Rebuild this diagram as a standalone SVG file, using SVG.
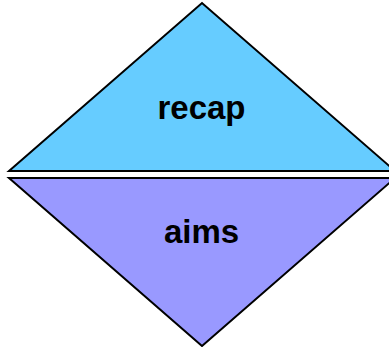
<svg xmlns="http://www.w3.org/2000/svg" width="389" height="347" viewBox="0 0 389 347">
<style>
.tri{stroke:#000;stroke-width:2;stroke-linejoin:miter}
.lbl{font-family:"Liberation Sans",Arial,sans-serif;font-weight:bold;font-size:33px;fill:#000;text-anchor:middle}
</style>
<rect width="389" height="347" fill="#fff"/>
<g id="recap">
<polygon class="tri" points="9,171 202,3 395,171" fill="#66ccff"/>
<text class="lbl" x="201.5" y="119">recap</text>
</g>
<g id="aims">
<polygon class="tri" points="9,178 395,178 202,346" fill="#9999ff"/>
<text class="lbl" x="201.5" y="243">aims</text>
</g>
<g id="connectors"/>
</svg>
